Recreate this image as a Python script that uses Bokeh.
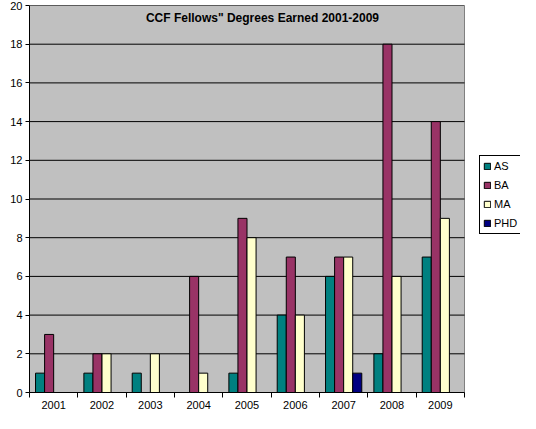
from bokeh.plotting import figure
from bokeh.models import (ColumnDataSource, Legend, LegendItem, Label, FixedTicker,
                          Range1d)
from bokeh.embed import file_html
from bokeh.resources import INLINE

years = ["2001", "2002", "2003", "2004", "2005", "2006", "2007", "2008", "2009"]
series_names = ["AS", "BA", "MA", "PHD"]
AS = [1, 1, 1, 0, 1, 4, 6, 2, 7]
BA = [3, 2, 0, 6, 9, 7, 7, 18, 14]
MA = [0, 2, 2, 1, 8, 4, 7, 6, 9]
PHD = [0, 0, 0, 0, 0, 0, 1, 0, 0]
y_ticks = [0, 2, 4, 6, 8, 10, 12, 14, 16, 18, 20]
colors = ["#008080", "#993366", "#FFFFCC", "#000080"]
title_text = 'CCF Fellows" Degrees Earned 2001-2009'

FONT = "Liberation Sans"
bar_w = 0.1875
n = len(years)
ymax = 20

W, H = 520, 413
left_b, top_b, bottom_b = 29, 5, 21
plot_px = 435  # width of the gray plot area in px
frame_w = W - left_b
x_end = n * frame_w / plot_px

p = figure(width=W, height=H, output_backend="svg", toolbar_location=None,
           x_range=Range1d(0, x_end), y_range=Range1d(0, ymax))
p.min_border_left = left_b
p.min_border_right = 0
p.min_border_top = top_b
p.min_border_bottom = bottom_b
p.background_fill_color = "white"
p.border_fill_color = "white"
p.outline_line_color = None

p.xgrid.grid_line_color = None
p.ygrid.grid_line_color = None

# plot area background and border
p.quad(left=0, right=n, bottom=0, top=ymax, fill_color="#C0C0C0",
       line_color="#808080", line_width=1)
# horizontal gridlines restricted to the plot area
p.segment(x0=[0] * len(y_ticks), x1=[n] * len(y_ticks), y0=y_ticks, y1=y_ticks,
          line_color="black", line_width=1)

centers = [i + 0.5 for i in range(n)]
p.xaxis.ticker = FixedTicker(ticks=centers, minor_ticks=list(range(n + 1)))
p.xaxis.major_label_overrides = {c: y for c, y in zip(centers, years)}
p.xaxis.bounds = (0, n)
p.xaxis.major_tick_out = 0
p.xaxis.major_tick_in = 0
p.xaxis.minor_tick_out = 5
p.xaxis.minor_tick_in = 0
p.xaxis.minor_tick_line_color = "black"
p.xaxis.axis_line_color = "black"
p.xaxis.major_label_standoff = 3

p.yaxis.ticker = FixedTicker(ticks=y_ticks)
p.yaxis.major_tick_out = 4
p.yaxis.major_tick_in = 0
p.yaxis.minor_tick_line_color = None
p.yaxis.axis_line_color = "black"
p.yaxis.major_tick_line_color = "black"
p.yaxis.major_label_standoff = 3

for ax in (p.xaxis, p.yaxis):
    ax.major_label_text_font = FONT
    ax.major_label_text_font_size = "11px"
    ax.major_label_text_color = "black"

items = []
for j, (name, vals) in enumerate(zip(series_names, [AS, BA, MA, PHD])):
    xs = [c + (j - 1.5) * bar_w for c in centers]
    src = ColumnDataSource(dict(x=xs, top=vals))
    r = p.vbar(x="x", top="top", bottom=0, width=bar_w, source=src,
               fill_color=colors[j], line_color="black", line_width=1)
    items.append(LegendItem(label=name, renderers=[r]))

legend = Legend(items=items, location=(450, 158))
legend.label_text_font = FONT
legend.label_text_font_size = "11px"
legend.label_text_color = "black"
legend.glyph_width = 8
legend.glyph_height = 8
legend.label_standoff = 3
legend.label_height = 14
legend.spacing = 5
legend.padding = 3
legend.margin = 0
legend.border_line_color = "black"
legend.border_line_alpha = 1
legend.border_line_width = 1
legend.background_fill_color = "white"
legend.background_fill_alpha = 1
p.add_layout(legend, "center")

title = Label(x=4.82, y=19.33, text=title_text, text_font=FONT,
              text_font_size="12px", text_font_style="bold",
              text_align="center", text_baseline="middle", text_color="black")
p.add_layout(title)

open("out.html", "w").write(file_html(p, INLINE))
